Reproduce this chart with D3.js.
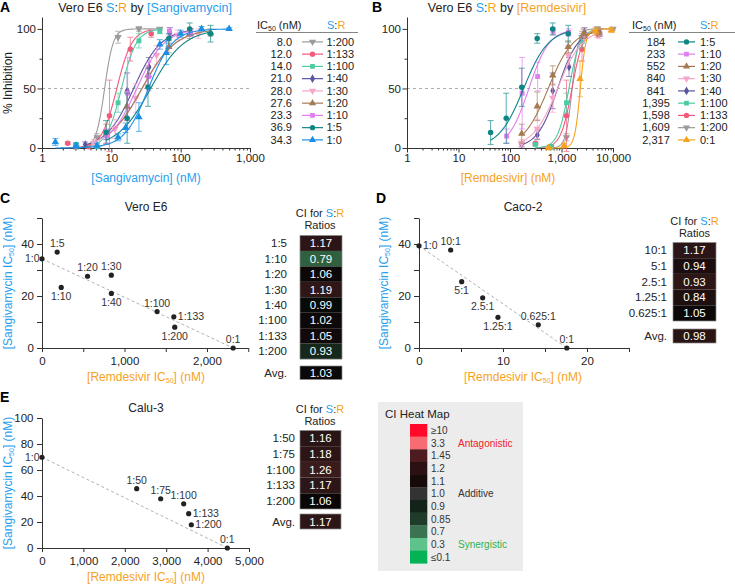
<!DOCTYPE html>
<html><head><meta charset="utf-8">
<script src="https://cdn.jsdelivr.net/npm/d3@7"></script>
<style>body{margin:0;background:#fff}</style>
</head><body>
<svg id="c" width="735" height="585"></svg>
<script>
// ================= DATA =================
// Panels A & B : combination ratios (S:R) — same experiments, x = [Sangivamycin] in A, [Remdesivir] in B
const comboRatios = ["1:200","1:133","1:100","1:40","1:30","1:20","1:10","1:5"];
const remPerSang  = [200,133,100,40,30,20,10,5];
const ic50SangA   = [8.0,12.0,14.0,21.0,28.0,27.6,23.3,36.9];
const ic50RemB    = [1609,1598,1395,841,840,552,233,184];
const hillSlope   = [7,4,4,2.2,1.8,1.8,2.2,1.8];
const sangConc = [
  [3.1,6.25,12.5,25,50],
  [2.35,4.7,9.4,18.8,37.6],
  [3.1,6.25,12.5,25,50],
  [4.2,8.5,16.9,35,70,140],
  [5.6,11.3,22.5,45,90,180],
  [8.45,16.9,33.8,67.5,135,270],
  [8.6,17.2,34.4,68.8,137.5],
  [8.4,16.9,33.8,67.5,135,270]
];
const inhibMean = [
  [1,9,93,100,100],
  [4,1,27,83,96],
  [3,1,38,90,98],
  [3,11,48,68,97,97],
  [4,16,42,78,95,96],
  [12,35,61,85,96,97],
  [10,46,60,98,97],
  [13,25,51,92,100,96]
];
const inhibErr = [
  [2,3,5,2,1],
  [1,1,30,10,3],
  [1,1,8,6,2],
  [2,4,15,8,4,3],
  [3,8,12,8,4,4],
  [8,12,8,5,4,3],
  [6,30,12,3,3],
  [10,21,16,4,5,7]
];
// single agents
const sangOnlyLabel = "1:0", sangOnlyIC50 = 34.3, sangOnlySlope = 2.5;
const sangOnlyConc = [1.56,3.1,6.2,12.5,16,25,50,62,100,200,500];
const sangOnlyMean = [5,2,2,9,17,26,87,80,96,100,100];
const sangOnlyErr  = [3,2,2,3,4,12,4,10,3,2,1];
const remOnlyLabel = "0:1", remOnlyIC50 = 2317, remOnlySlope = 8;
const remOnlyConc = [560,1120,2290,4600,9300];
const remOnlyMean = [0,2,58,98,99];
const remOnlyErr  = [1,2,15,3,2];

// Panel C : Vero E6 isobologram
const isoC_labels = ["1:0","1:5","1:10","1:20","1:30","1:40","1:100","1:133","1:200","0:1"];
const isoC_rem    = [0,184,233,552,840,841,1395,1598,1609,2317];
const isoC_sang   = [34.3,36.9,23.3,27.6,28.0,21.0,14.0,12.0,8.0,0];
const ciC_ratios  = ["1:5","1:10","1:20","1:30","1:40","1:100","1:133","1:200"];
const ciC_values  = [1.17,0.79,1.06,1.19,0.99,1.02,1.05,0.93];
const ciC_avg     = 1.03;

// Panel D : Caco-2
const isoD_labels = ["1:0","10:1","5:1","2.5:1","1.25:1","0.625:1","0:1"];
const isoD_rem    = [0,3.77,5.08,7.58,9.4,14.2,17.6];
const isoD_sang   = [39.3,37.7,25.5,19.3,11.8,8.9,0];
const ciD_ratios  = ["10:1","5:1","2.5:1","1.25:1","0.625:1"];
const ciD_values  = [1.17,0.94,0.93,0.84,1.05];
const ciD_avg     = 0.98;

// Panel E : Calu-3
const isoE_labels = ["1:0","1:50","1:75","1:100","1:133","1:200","0:1"];
const isoE_rem    = [0,2287,2867,3422,3543,3607,4477];
const isoE_sang   = [69.8,45.6,37.9,34.0,26.4,17.9,0];
const ciE_ratios  = ["1:50","1:75","1:100","1:133","1:200"];
const ciE_values  = [1.16,1.18,1.26,1.17,1.06];
const ciE_avg     = 1.17;

// CI heat map legend
const heatLabels = ["≥10","3.3","1.45","1.2","1.1","1.0","0.9","0.85","0.7","0.3","≤0.1"];

// ================= STYLES =================
const FONT = "'Liberation Sans', Arial, Helvetica, sans-serif";
const BLUE = "#27a0ee", ORANGE = "#f7a21c", INK = "#222", AXIS = "#333";
const comboColors  = ["#9b9b9b","#f25a7c","#4ccaa3","#5a559e","#f6a6c9","#a47a52","#e07df0","#0f8585"];
const comboSymbols = ["tdown","circle","square","diamond","tdown","triangle","square","circle"];
const sangOnlyColor = "#1a8fe6", remOnlyColor = "#f7a21c";
const heatColors = ["#ff0a2a","#f76c72","#4e1c20","#2b1114","#160a0b","#333333","#12241a","#1f3b2a","#3b7352","#5ec38a","#05b256"];
const ciC_colors = ["#2c1516","#2f6141","#0d0808","#2f1718","#070b08","#0e0909","#120a0a","#16271b"], ciC_avgColor = "#0a0808";
const ciD_colors = ["#2b1516","#1c0e0e","#2c1616","#1f1010","#0c0808"], ciD_avgColor = "#2a1414";
const ciE_colors = ["#2a1516","#2d1516","#3a1c1d","#2c1617","#0a0606"], ciE_avgColor = "#2d1617";

const svg = d3.select("#c").attr("font-family", FONT);

function rich(sel, x, y, parts, attrs) {
  const t = sel.append("text").attr("x", x).attr("y", y);
  Object.entries(attrs || {}).forEach(([k, v]) => t.attr(k, v));
  parts.forEach(p => {
    const ts = t.append("tspan").text(p[0]).attr("fill", p[1] || INK);
    if (p[2]) Object.entries(p[2]).forEach(([k, v]) => ts.attr(k, v));
  });
  return t;
}
const SR = [["S", BLUE], [":", INK], ["R", ORANGE]];
function symPath(type, size) {
  const m = {circle: d3.symbolCircle, square: d3.symbolSquare, triangle: d3.symbolTriangle,
             tdown: d3.symbolTriangle, diamond: d3.symbolDiamond};
  return d3.symbol().type(m[type]).size(size || (type === "diamond" ? 20 : 24))();
}
function marker(g, type, color, x, y, size) {
  g.append("path").attr("d", symPath(type, size)).attr("fill", color)
    .attr("transform", `translate(${x},${y})` + (type === "tdown" ? " rotate(180)" : ""));
}
function styleAxis(g, fs) {
  g.attr("font-family", FONT).attr("font-size", fs);
  g.select(".domain").attr("stroke", AXIS).attr("stroke-width", 1);
  g.selectAll(".tick line").attr("stroke", AXIS).attr("stroke-width", 1);
  g.selectAll(".tick text").attr("fill", INK);
}
function panelLetter(ch, x, y) {
  svg.append("text").attr("x", x).attr("y", y).text(ch).attr("font-weight", "bold")
    .attr("font-size", 14).attr("fill", "#000");
}

// ================= DOSE-RESPONSE PANELS =================
const yDose = d3.scaleLinear().domain([0, 110]).range([148, 17]);
const xA = d3.scaleLog().domain([1, 1000]).range([42, 250]);
const xB = d3.scaleLog().domain([1, 10000]).range([407, 613]);

function doseAxes(x) {
  const g = svg.append("g");
  const [d0, d1] = x.domain();
  const majors = d3.range(Math.round(Math.log10(d0)), Math.round(Math.log10(d1)) + 1).map(e => Math.pow(10, e));
  const minors = [];
  majors.slice(0, -1).forEach(m => { for (let k = 2; k < 10; k++) minors.push(m * k); });
  g.append("line").attr("x1", x.range()[0]).attr("x2", x.range()[1])
    .attr("y1", yDose(50)).attr("y2", yDose(50))
    .attr("stroke", "#a0a0a0").attr("stroke-dasharray", "3,3").attr("stroke-width", 0.9);
  const gx = g.append("g").attr("transform", `translate(0,${yDose(0)})`)
    .call(d3.axisBottom(x).tickValues(majors.concat(minors))
      .tickFormat(d => majors.includes(d) ? d3.format(",")(d) : "")
      .tickSize(4).tickSizeOuter(0).tickPadding(1.5));
  styleAxis(gx, 11.5);
  gx.selectAll(".tick line").attr("y2", d => majors.includes(d) ? 4.5 : 2.5);
  const gy = g.append("g").attr("transform", `translate(${x.range()[0]},0)`)
    .call(d3.axisLeft(yDose).tickValues([0, 25, 50, 75, 100])
      .tickFormat(d => d % 50 === 0 ? d : "").tickSize(4).tickSizeOuter(0).tickPadding(2));
  styleAxis(gy, 11.5);
  gy.selectAll(".tick line").attr("x2", d => d % 50 === 0 ? -4.5 : -2.5);
}

function drawSeries(x, conc, mean, err, ic50, slope, color, symbol) {
  const g = svg.append("g");
  const lo = Math.log10(d3.min(conc)), hi = Math.log10(d3.max(conc));
  const xs = d3.range(0, 121).map(i => Math.pow(10, lo + (hi - lo) * i / 120));
  const hill = c => 100 / (1 + Math.pow(ic50 / c, slope));
  g.append("path").attr("d", d3.line().x(c => x(c)).y(c => yDose(hill(c)))(xs))
    .attr("fill", "none").attr("stroke", color).attr("stroke-width", 1.1);
  conc.forEach((c, i) => {
    const px = x(c), top = yDose(mean[i] + err[i]), bot = yDose(Math.max(mean[i] - err[i], -3));
    const eg = g.append("g").attr("stroke", color).attr("stroke-width", 0.9).attr("opacity", 0.75);
    eg.append("line").attr("x1", px).attr("x2", px).attr("y1", top).attr("y2", bot);
    eg.append("line").attr("x1", px - 3).attr("x2", px + 3).attr("y1", top).attr("y2", top);
    eg.append("line").attr("x1", px - 3).attr("x2", px + 3).attr("y1", bot).attr("y2", bot);
    marker(g, symbol, color, px, yDose(mean[i]));
  });
}

// ---- Panel A ----
panelLetter("A", 0, 12);
rich(svg, 145, 12, [["Vero E6 "], ...SR, [" by "], ["[Sangivamycin]", BLUE]],
  {"text-anchor": "middle", "font-size": 12.5});
doseAxes(xA);
comboRatios.forEach((r, i) =>
  drawSeries(xA, sangConc[i], inhibMean[i], inhibErr[i], ic50SangA[i], hillSlope[i], comboColors[i], comboSymbols[i]));
drawSeries(xA, sangOnlyConc, sangOnlyMean, sangOnlyErr, sangOnlyIC50, sangOnlySlope, sangOnlyColor, "triangle");
svg.append("text").attr("transform", "translate(12,83) rotate(-90)").attr("text-anchor", "middle")
  .attr("font-size", 12).attr("fill", INK).text("% Inhibition");
svg.append("text").attr("x", 146).attr("y", 182).attr("text-anchor", "middle")
  .attr("font-size", 12).attr("fill", BLUE).text("[Sangivamycin] (nM)");

// ---- Panel B ----
panelLetter("B", 372, 12);
rich(svg, 507, 12, [["Vero E6 "], ...SR, [" by "], ["[Remdesivir]", ORANGE]],
  {"text-anchor": "middle", "font-size": 12.5});
doseAxes(xB);
comboRatios.forEach((r, i) =>
  drawSeries(xB, sangConc[i].map(c => c * remPerSang[i]), inhibMean[i], inhibErr[i],
    ic50RemB[i], hillSlope[i], comboColors[i], comboSymbols[i]));
drawSeries(xB, remOnlyConc, remOnlyMean, remOnlyErr, remOnlyIC50, remOnlySlope, remOnlyColor, "triangle");
svg.append("text").attr("x", 508).attr("y", 182).attr("text-anchor", "middle")
  .attr("font-size", 12).attr("fill", ORANGE).text("[Remdesivir] (nM)");

// ---- legends A & B ----
function doseLegend(cfg) {
  const g = svg.append("g").attr("font-size", 11);
  rich(g, cfg.hx, 29, [["IC"], ["50", INK, {"font-size": 7, dy: 2}], [" (nM)", INK, {dy: -2}]]);
  rich(g, cfg.srx, 29, SR);
  g.append("line").attr("x1", cfg.ux0).attr("x2", cfg.ux1).attr("y1", 32.5).attr("y2", 32.5)
    .attr("stroke", "#666").attr("stroke-width", 0.8);
  cfg.rows.forEach((row, i) => {
    const yb = 45.7 + i * 12.25, yc = yb - 3.8;
    g.append("text").attr("x", cfg.vx).attr("y", yb).attr("text-anchor", cfg.anchor)
      .attr("fill", INK).text(row.value);
    g.append("line").attr("x1", cfg.l0).attr("x2", cfg.l1).attr("y1", yc).attr("y2", yc)
      .attr("stroke", row.color).attr("stroke-width", 1.2);
    marker(g, row.symbol, row.color, (cfg.l0 + cfg.l1) / 2, yc, 22);
    g.append("text").attr("x", cfg.lx).attr("y", yb).attr("fill", INK).text(row.label);
  });
}
const legA = comboRatios.map((r, i) => ({value: d3.format(".1f")(ic50SangA[i]), label: r,
  color: comboColors[i], symbol: comboSymbols[i]}));
legA.push({value: d3.format(".1f")(sangOnlyIC50), label: sangOnlyLabel, color: sangOnlyColor, symbol: "triangle"});
doseLegend({hx: 257, srx: 327, ux0: 256, ux1: 358, vx: 292, anchor: "end", l0: 302, l1: 323, lx: 326.5, rows: legA});
const legB = comboRatios.map((r, i) => ({value: d3.format(",")(ic50RemB[i]), label: r,
  color: comboColors[i], symbol: comboSymbols[i]})).reverse();
legB.push({value: d3.format(",")(remOnlyIC50), label: remOnlyLabel, color: remOnlyColor, symbol: "triangle"});
doseLegend({hx: 632, srx: 700, ux0: 629, ux1: 735, vx: 656, anchor: "middle", l0: 678, l1: 695, lx: 700, rows: legB});

// ================= ISOBOLOGRAMS =================
function isoPanel(cfg) {
  const {x, y, rem, sang, labels, place} = cfg;
  const g = svg.append("g");
  const gx = g.append("g").attr("transform", `translate(0,${y.range()[0]})`)
    .call(d3.axisBottom(x).tickValues(cfg.xTicks).tickFormat(cfg.xFmt)
      .tickSize(4).tickSizeOuter(0).tickPadding(cfg.xPad));
  styleAxis(gx, 11.5);
  const gy = g.append("g").attr("transform", `translate(${x.range()[0]},0)`)
    .call(d3.axisLeft(y).tickValues(cfg.yTicks).tickFormat(cfg.yFmt)
      .tickSize(5).tickSizeOuter(0).tickPadding(cfg.yPad));
  styleAxis(gy, 11.5);
  const last = rem.length - 1;
  g.append("line").attr("x1", x(rem[0])).attr("y1", y(sang[0])).attr("x2", x(rem[last])).attr("y2", y(sang[last]))
    .attr("stroke", "#a8a8a8").attr("stroke-width", 0.9).attr("stroke-dasharray", "3,2.5");
  rem.forEach((r, i) => {
    const px = x(r), py = y(sang[i]);
    g.append("circle").attr("cx", px).attr("cy", py).attr("r", 2.6).attr("fill", "#222");
    const t = g.append("text").attr("font-size", 10.5).attr("fill", "#333").text(labels[i]);
    const p = place[i];
    if (p === "above") t.attr("x", px).attr("y", py - 5).attr("text-anchor", "middle");
    else if (p === "below") t.attr("x", px).attr("y", py + 12.5).attr("text-anchor", "middle");
    else if (p === "left") t.attr("x", px - 2.5).attr("y", py + 3.5).attr("text-anchor", "end");
    else t.attr("x", px + 4).attr("y", py + 3.5).attr("text-anchor", "start");
  });
  svg.append("text").attr("x", cfg.tx).attr("y", cfg.ty).attr("text-anchor", "middle")
    .attr("font-size", 12).attr("fill", INK).text(cfg.title);
  rich(svg, cfg.xlx, cfg.xly, [["[Remdesivir IC", ORANGE], ["50", ORANGE, {"font-size": 7, dy: 2}], ["] (nM)", ORANGE, {dy: -2}]],
    {"text-anchor": "middle", "font-size": 12});
  rich(svg, 0, 0, [["[Sangivamycin IC", BLUE], ["50", BLUE, {"font-size": 7, dy: 2}], ["] (nM)", BLUE, {dy: -2}]],
    {"text-anchor": "middle", "font-size": 12, transform: `translate(${cfg.ylx},${cfg.yly}) rotate(-90)`});
}

function ciTable(cfg) {
  const g = svg.append("g").attr("font-size", 11.5);
  rich(g, cfg.cx, cfg.hy - 0.5, [["CI for "], ...SR], {"text-anchor": "middle", "font-size": 11});
  g.append("text").attr("x", cfg.cx).attr("y", cfg.hy + 12.3).attr("text-anchor", "middle")
    .attr("font-size", 11).attr("fill", INK).text("Ratios");
  const w = cfg.x1 - cfg.x0;
  cfg.ratios.forEach((r, i) => {
    const yt = cfg.top + i * cfg.rh;
    g.append("rect").attr("x", cfg.x0).attr("y", yt).attr("width", w).attr("height", cfg.rh)
      .attr("fill", cfg.colors[i]);
    g.append("text").attr("x", cfg.lx).attr("y", yt + cfg.rh / 2 + 4).attr("text-anchor", "end")
      .attr("fill", INK).text(r);
    g.append("text").attr("x", cfg.x0 + w / 2).attr("y", yt + cfg.rh / 2 + 4).attr("text-anchor", "middle")
      .attr("fill", "#fff").text(d3.format(".2f")(cfg.values[i]));
  });
  g.append("rect").attr("x", cfg.x0).attr("y", cfg.top).attr("width", w)
    .attr("height", cfg.rh * cfg.ratios.length).attr("fill", "none").attr("stroke", "#8a8a8a").attr("stroke-width", 0.7);
  g.append("rect").attr("x", cfg.x0).attr("y", cfg.ay).attr("width", w).attr("height", cfg.ah)
    .attr("fill", cfg.avgColor).attr("stroke", "#8a8a8a").attr("stroke-width", 0.7);
  g.append("text").attr("x", cfg.lx).attr("y", cfg.ay + cfg.ah / 2 + 4).attr("text-anchor", "end")
    .attr("fill", INK).text("Avg.");
  g.append("text").attr("x", cfg.x0 + w / 2).attr("y", cfg.ay + cfg.ah / 2 + 4).attr("text-anchor", "middle")
    .attr("fill", "#fff").text(d3.format(".2f")(cfg.avg));
}

// ---- Panel C ----
panelLetter("C", 0, 203);
isoPanel({
  x: d3.scaleLinear().domain([0, 2500]).range([42, 248.25]),
  y: d3.scaleLinear().domain([0, 50]).range([348, 218]),
  rem: isoC_rem, sang: isoC_sang, labels: isoC_labels,
  place: ["left","above","below","above","above","below","above","right","below","above"],
  xTicks: [0, 500, 1000, 1500, 2000, 2500], xFmt: d => d % 1000 === 0 ? d3.format(",")(d) : "", xPad: 4.5,
  yTicks: [0, 10, 20, 30, 40, 50], yFmt: d => d % 20 === 0 ? d : "", yPad: 3,
  title: "Vero E6", tx: 146, ty: 210.5, xlx: 146, xly: 381, ylx: 12, yly: 283
});
ciTable({cx: 320, hy: 217, x0: 300, x1: 342, lx: 287, top: 235.5, rh: 15.45,
  ratios: ciC_ratios, values: ciC_values, colors: ciC_colors,
  ay: 366, ah: 13.5, avg: ciC_avg, avgColor: ciC_avgColor});

// ---- Panel D ----
panelLetter("D", 376, 203);
isoPanel({
  x: d3.scaleLinear().domain([0, 25]).range([419, 629]),
  y: d3.scaleLinear().domain([0, 50]).range([348, 218]),
  rem: isoD_rem, sang: isoD_sang, labels: isoD_labels,
  place: ["right","above","below","below","below","above","above"],
  xTicks: [0, 5, 10, 15, 20, 25], xFmt: d => d % 10 === 0 ? d : "", xPad: 4.5,
  yTicks: [0, 10, 20, 30, 40, 50], yFmt: d => d % 20 === 0 ? d : "", yPad: 3,
  title: "Caco-2", tx: 523, ty: 210.5, xlx: 523, xly: 381, ylx: 388, yly: 283
});
ciTable({cx: 694.5, hy: 225, x0: 673, x1: 716, lx: 667, top: 242.5, rh: 15.7,
  ratios: ciD_ratios, values: ciD_values, colors: ciD_colors,
  ay: 329, ah: 14, avg: ciD_avg, avgColor: ciD_avgColor});

// ---- Panel E ----
panelLetter("E", 0, 402);
isoPanel({
  x: d3.scaleLinear().domain([0, 5000]).range([42, 249]),
  y: d3.scaleLinear().domain([0, 100]).range([548, 418]),
  rem: isoE_rem, sang: isoE_sang, labels: isoE_labels,
  place: ["left","above","above","above","right","right","above"],
  xTicks: [0, 1000, 2000, 3000, 4000, 5000], xFmt: d3.format(","), xPad: 5,
  yTicks: [0, 20, 40, 60, 80, 100], yFmt: d => d, yPad: 3.5,
  title: "Calu-3", tx: 146, ty: 411.5, xlx: 146, xly: 581, ylx: 12, yly: 483
});
ciTable({cx: 320, hy: 413, x0: 300, x1: 341, lx: 295, top: 430.5, rh: 15.7,
  ratios: ciE_ratios, values: ciE_values, colors: ciE_colors,
  ay: 514, ah: 15, avg: ciE_avg, avgColor: ciE_avgColor});

// ================= CI HEAT MAP LEGEND =================
(function () {
  const g = svg.append("g");
  g.append("rect").attr("x", 378).attr("y", 402).attr("width", 145).attr("height", 169).attr("fill", "#ececec");
  g.append("text").attr("x", 385).attr("y", 418).attr("font-size", 11.5).attr("fill", INK).text("CI Heat Map");
  const y = d3.scaleBand().domain(heatLabels).range([424, 563.3]);
  heatLabels.forEach((lab, i) => {
    g.append("rect").attr("x", 410).attr("y", y(lab)).attr("width", 17.3).attr("height", y.bandwidth() + 0.3)
      .attr("fill", heatColors[i]);
    g.append("text").attr("x", 431).attr("y", y(lab) + y.bandwidth() / 2 + 3.6)
      .attr("font-size", 10).attr("fill", "#333").text(lab);
  });
  const tag = (lab, txt, col) => g.append("text").attr("x", 458).attr("y", y(lab) + y.bandwidth() / 2 + 3.6)
    .attr("font-size", 10).attr("fill", col).text(txt);
  tag("3.3", "Antagonistic", "#f0202a");
  tag("1.0", "Additive", "#333");
  tag("0.3", "Synergistic", "#2eb34a");
})();
</script>
</body></html>
